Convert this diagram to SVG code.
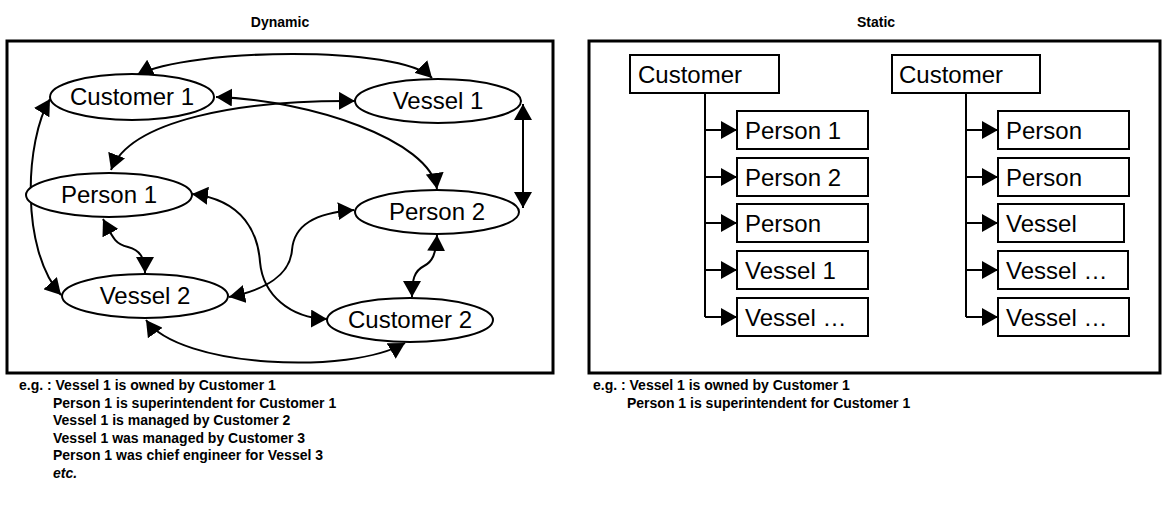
<svg xmlns="http://www.w3.org/2000/svg" width="1164" height="510" viewBox="0 0 1164 510">
<style>
text{font-family:"Liberation Sans",Arial,sans-serif;fill:#000}
.t{font-size:14px;font-weight:bold}
.n{font-size:24px}
.frame{fill:none;stroke:#000;stroke-width:3}
.el{fill:#fff;stroke:#000;stroke-width:2}
.bx{fill:#fff;stroke:#000;stroke-width:2}
.c{fill:none;stroke:#000;stroke-width:2;marker-start:url(#ah);marker-end:url(#ah)}
.s{fill:none;stroke:#000;stroke-width:2;marker-end:url(#ah)}
.tr{fill:none;stroke:#000;stroke-width:2}
</style>
<defs>
<marker id="ah" viewBox="0 0 16 18" refX="16" refY="9" markerWidth="16" markerHeight="18" orient="auto-start-reverse" markerUnits="userSpaceOnUse"><path d="M0,0 L16,9 L0,18 z" fill="#000"/></marker>
</defs>
<rect width="1164" height="510" fill="#fff"/>
<text class="t" x="280" y="27" text-anchor="middle">Dynamic</text>
<text class="t" x="876" y="27" text-anchor="middle">Static</text>
<rect class="frame" x="7" y="41" width="546" height="332"/>
<rect class="frame" x="589" y="41" width="571" height="332"/>

<g id="connectors">
<path class="c" d="M137,75 C190,48 400,45 432,78"/>
<path class="c" d="M216,97 C310,100 430,140 437,189"/>
<path class="c" d="M111,170 C130,120 240,100 355,101"/>
<path class="c" d="M523,104 L523,208"/>
<path class="c" d="M50,99 C25,140 20,250 61,295"/>
<path class="c" d="M103,219 C113,238 115,244 128,247 C140,250 145,258 145,273"/>
<path class="c" d="M192,194 C245,200 258,235 260,262 C263,295 290,318 327,319"/>
<path class="c" d="M229,297 C265,290 290,275 292,250 C294,225 315,213 354,210"/>
<path class="c" d="M437,235 C436,255 432,262 424,266 C414,271 412,280 412,297"/>
<path class="c" d="M146,320 C180,368 350,375 405,343"/>
<path class="tr" d="M705,93 V317"/>
<path class="s" d="M705,130 H737"/>
<path class="s" d="M705,177 H737"/>
<path class="s" d="M705,223 H737"/>
<path class="s" d="M705,270 H737"/>
<path class="s" d="M705,317 H737"/>
<path class="tr" d="M966,93 V317"/>
<path class="s" d="M966,130 H998"/>
<path class="s" d="M966,177 H998"/>
<path class="s" d="M966,223 H998"/>
<path class="s" d="M966,270 H998"/>
<path class="s" d="M966,317 H998"/>
</g>

<g id="customer1"><ellipse class="el" cx="132" cy="97" rx="82" ry="23"/><text class="n" x="132" y="105" text-anchor="middle">Customer 1</text></g>
<g id="vessel1"><ellipse class="el" cx="438" cy="101" rx="83" ry="22"/><text class="n" x="438" y="109" text-anchor="middle">Vessel 1</text></g>
<g id="person1"><ellipse class="el" cx="109" cy="195" rx="83" ry="22"/><text class="n" x="109" y="203" text-anchor="middle">Person 1</text></g>
<g id="person2"><ellipse class="el" cx="437" cy="212" rx="82" ry="22"/><text class="n" x="437" y="220" text-anchor="middle">Person 2</text></g>
<g id="vessel2"><ellipse class="el" cx="145" cy="296" rx="83" ry="22"/><text class="n" x="145" y="304" text-anchor="middle">Vessel 2</text></g>
<g id="customer2"><ellipse class="el" cx="410" cy="320" rx="83" ry="22"/><text class="n" x="410" y="328" text-anchor="middle">Customer 2</text></g>

<g id="s1-customer"><rect class="bx" x="630" y="55" width="149" height="38"/><text class="n" x="638" y="83">Customer</text></g>
<g id="s1-person1"><rect class="bx" x="737" y="111" width="131" height="38"/><text class="n" x="745" y="139">Person 1</text></g>
<g id="s1-person2"><rect class="bx" x="737" y="158" width="131" height="38"/><text class="n" x="745" y="186">Person 2</text></g>
<g id="s1-person"><rect class="bx" x="737" y="204" width="131" height="38"/><text class="n" x="745" y="232">Person</text></g>
<g id="s1-vessel1"><rect class="bx" x="737" y="251" width="131" height="38"/><text class="n" x="745" y="279">Vessel 1</text></g>
<g id="s1-vesseln"><rect class="bx" x="737" y="298" width="131" height="38"/><text class="n" x="745" y="326">Vessel …</text></g>

<g id="s2-customer"><rect class="bx" x="892" y="55" width="148" height="38"/><text class="n" x="899" y="83">Customer</text></g>
<g id="s2-person-a"><rect class="bx" x="998" y="111" width="131" height="38"/><text class="n" x="1006" y="139">Person</text></g>
<g id="s2-person-b"><rect class="bx" x="998" y="158" width="131" height="38"/><text class="n" x="1006" y="186">Person</text></g>
<g id="s2-vessel"><rect class="bx" x="998" y="204" width="126" height="38"/><text class="n" x="1006" y="232">Vessel</text></g>
<g id="s2-vessel-a"><rect class="bx" x="998" y="251" width="130" height="38"/><text class="n" x="1006" y="279">Vessel …</text></g>
<g id="s2-vessel-b"><rect class="bx" x="998" y="298" width="131" height="38"/><text class="n" x="1006" y="326">Vessel …</text></g>

<g id="notes-dynamic">
<text class="t" x="19" y="390">e.g. : Vessel 1 is owned by Customer 1</text>
<text class="t" x="53" y="407.6">Person 1 is superintendent for Customer 1</text>
<text class="t" x="53" y="425.2">Vessel 1 is managed by Customer 2</text>
<text class="t" x="53" y="442.8">Vessel 1 was managed by Customer 3</text>
<text class="t" x="53" y="460.4">Person 1 was chief engineer for Vessel 3</text>
<text class="t" x="53" y="478" font-style="italic">etc.</text>
</g>
<g id="notes-static">
<text class="t" x="593" y="390">e.g. : Vessel 1 is owned by Customer 1</text>
<text class="t" x="627" y="407.6">Person 1 is superintendent for Customer 1</text>
</g>
</svg>
